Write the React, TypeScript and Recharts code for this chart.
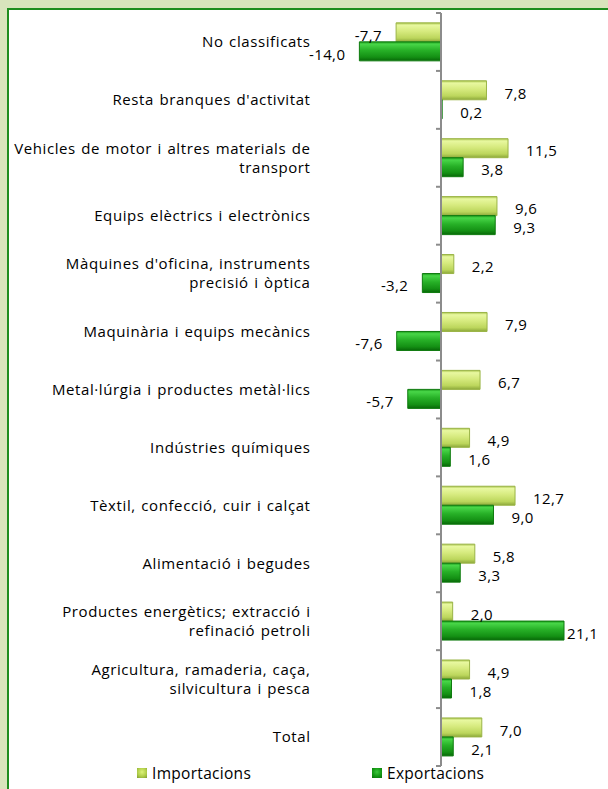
import React from 'react';
import { BarChart, Bar, XAxis, YAxis, ReferenceLine, LabelList, Legend } from 'recharts';

const categories = [
  'No classificats',
  "Resta branques d'activitat",
  'Vehicles de motor i altres materials de transport',
  'Equips elèctrics i electrònics',
  "Màquines d'oficina, instruments precisió i òptica",
  'Maquinària i equips mecànics',
  'Metal·lúrgia i productes metàl·lics',
  'Indústries químiques',
  'Tèxtil, confecció, cuir i calçat',
  'Alimentació i begudes',
  'Productes energètics; extracció i refinació petroli',
  'Agricultura, ramaderia, caça, silvicultura i pesca',
  'Total',
];
const importacions = [-7.7, 7.8, 11.5, 9.6, 2.2, 7.9, 6.7, 4.9, 12.7, 5.8, 2.0, 4.9, 7.0];
const exportacions = [-14.0, 0.2, 3.8, 9.3, -3.2, -7.6, -5.7, 1.6, 9.0, 3.3, 21.1, 1.8, 2.1];
const seriesNames = ['Importacions', 'Exportacions'];

const data = categories.map((c, i) => ({ name: c, imp: importacions[i], exp: exportacions[i] }));

const W = 608;
const H = 789;
const FONT = '"Open Sans", sans-serif';
const FS = 15;

function wrap(text: string, max = 39) {
  const words = text.split(' ');
  const lines: string[] = [];
  let cur = '';
  for (const w of words) {
    const next = cur ? cur + ' ' + w : w;
    if (next.length > max && cur) {
      lines.push(cur);
      cur = w;
    } else cur = next;
  }
  if (cur) lines.push(cur);
  return lines;
}

function CategoryTick(props: any) {
  const { x, y, payload } = props;
  const lines = wrap(String(payload.value));
  const lh = 19;
  const start = y - ((lines.length - 1) * lh) / 2;
  return (
    <text
      x={x - 35}
      textAnchor="end"
      fontFamily={FONT}
      fontSize={FS}
      fill="#000"
      style={{ letterSpacing: '0.6px', wordSpacing: '1px' }}
    >
      {lines.map((l, i) => (
        <tspan key={i} x={x - 35} y={start + i * lh} dy="0.35em">
          {l}
        </tspan>
      ))}
    </text>
  );
}

function ValueLabel(props: any) {
  const { x, y, width, height, value } = props;
  const end = x + width;
  const v = Number(value);
  const txt = v.toFixed(1).replace('.', ',');
  const cy = y + height / 2 + 3;
  if (v >= 0) {
    return (
      <text x={Math.min(end + 18, W - 41)} y={cy} dy="0.35em" textAnchor="start" fontFamily={FONT} fontSize={15} fill="#000" style={{ letterSpacing: '0.4px' }}>
        {txt}
      </text>
    );
  }
  return (
    <text x={end - 14} y={cy} dy="0.35em" textAnchor="end" fontFamily={FONT} fontSize={15} fill="#000" style={{ letterSpacing: '0.4px' }}>
      {txt}
    </text>
  );
}

function ZeroAxis(props: any) {
  const { x1, y1, y2 } = props;
  const n = categories.length;
  const step = (y2 - y1) / n;
  const ticks = [];
  for (let i = 0; i <= n; i++) {
    const ty = y1 + i * step;
    ticks.push(<line key={i} x1={x1 - 5} x2={x1} y1={ty} y2={ty} stroke="#8c8c8c" strokeWidth={2} />);
  }
  return (
    <g>
      <line x1={x1} x2={x1} y1={y1} y2={y2} stroke="#8c8c8c" strokeWidth={2} />
      {ticks}
    </g>
  );
}

function LegendContent() {
  const item = (name: string, grad: string, left: number) => (
    <div key={name} style={{ position: 'absolute', left, top: 0, display: 'flex', alignItems: 'center' }}>
      <span style={{ display: 'inline-block', width: 10, height: 10, background: grad, marginRight: 5 }} />
      <span style={{ fontFamily: FONT, fontSize: 15.5, color: '#000', lineHeight: '20px', letterSpacing: '0.3px' }}>{name}</span>
    </div>
  );
  return (
    <div style={{ position: 'relative', width: W, height: 20 }}>
      {item(seriesNames[0], 'radial-gradient(circle at 50% 40%, #dcf27a 0%, #b2cf4a 55%, #7f9c30 100%)', 137)}
      {item(seriesNames[1], 'radial-gradient(circle at 50% 40%, #3cc63c 0%, #159a15 55%, #0a6e0a 100%)', 372)}
    </div>
  );
}

export default function App() {
  return (
    <div style={{ position: 'absolute', left: 0, top: 0, width: W, height: H, background: '#d8e4bc', overflow: 'hidden' }}>
      <div
        style={{
          position: 'absolute',
          left: 7,
          top: 8,
          width: W,
          height: H,
          background: '#fff',
          borderLeft: '2px solid #1e8c1e',
          borderTop: '2px solid #1e8c1e',
        }}
      />
      <div style={{ position: 'absolute', left: 0, top: 0 }}>
        <BarChart
          width={W}
          height={H}
          data={data}
          layout="vertical"
          margin={{ top: 13, right: 21.25, bottom: 23, left: 0 }}
          barCategoryGap="17%"
          barGap={0}
        >
          <defs>
            <linearGradient id="gImp" x1="0" y1="0" x2="0" y2="1">
              <stop offset="0%" stopColor="#a9c44c" />
              <stop offset="12%" stopColor="#e8f8a0" />
              <stop offset="45%" stopColor="#d6ea7e" />
              <stop offset="80%" stopColor="#bcd65c" />
              <stop offset="100%" stopColor="#8ca83a" />
            </linearGradient>
            <linearGradient id="gExp" x1="0" y1="0" x2="0" y2="1">
              <stop offset="0%" stopColor="#1b9a1b" />
              <stop offset="12%" stopColor="#48d648" />
              <stop offset="45%" stopColor="#27b027" />
              <stop offset="80%" stopColor="#149014" />
              <stop offset="100%" stopColor="#086808" />
            </linearGradient>
          </defs>
          <XAxis type="number" domain={[-15, 25]} hide />
          <YAxis
            type="category"
            dataKey="name"
            width={353.55}
            axisLine={false}
            tickLine={false}
            tick={<CategoryTick />}
            interval={0}
          />
          <Legend
            layout="horizontal"
            verticalAlign="middle"
            align="center"
            wrapperStyle={{ top: 763, left: 0, width: W }}
            content={<LegendContent />}
          />
          <Bar dataKey="imp" name={seriesNames[0]} fill="url(#gImp)" stroke="#9ab446" strokeWidth={1} isAnimationActive={false}>
            <LabelList dataKey="imp" content={<ValueLabel />} />
          </Bar>
          <Bar dataKey="exp" name={seriesNames[1]} fill="url(#gExp)" stroke="#0e7a0e" strokeWidth={1} isAnimationActive={false}>
            <LabelList dataKey="exp" content={<ValueLabel />} />
          </Bar>
          <ReferenceLine x={0} shape={<ZeroAxis />} />
        </BarChart>
      </div>
    </div>
  );
}
